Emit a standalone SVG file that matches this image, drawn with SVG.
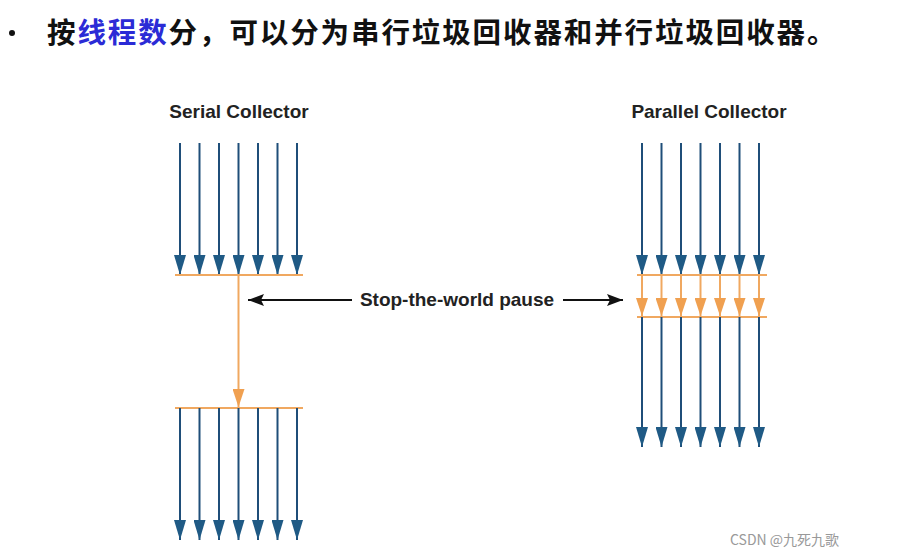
<svg xmlns="http://www.w3.org/2000/svg" width="897" height="555" viewBox="0 0 897 555">
<defs>
<style>
.b{stroke:#1f4e79;stroke-width:2}
.o{stroke:#f0a860;stroke-width:2}
.k{stroke:#111;stroke-width:2}
.t{font-family:"Liberation Sans",Arial,sans-serif;font-weight:bold;font-size:19px;fill:#222}
</style>
<marker id="bh" viewBox="0 0 20 12" refX="20" refY="6" markerWidth="20" markerHeight="12" markerUnits="userSpaceOnUse" orient="auto"><path d="M0,0 L20,6 L0,12 Z" fill="#1f5a85"/></marker>
<marker id="oh" viewBox="0 0 18 12" refX="18" refY="6" markerWidth="18" markerHeight="12" markerUnits="userSpaceOnUse" orient="auto"><path d="M0,0 L18,6 L0,12 Z" fill="#f0a050"/></marker>
<marker id="kh" viewBox="0 0 16 12" refX="16" refY="6" markerWidth="16" markerHeight="12" markerUnits="userSpaceOnUse" orient="auto"><path d="M0,0 L16,6 L0,12 L3,6 Z" fill="#111"/></marker>
</defs>
<rect width="897" height="555" fill="#fff"/>
<g id="title">
<circle cx="12" cy="33" r="3" fill="#111"/>
<text x="47" y="43" font-family="Noto Sans CJK SC,sans-serif" font-size="28.5" letter-spacing="1.9" font-weight="bold" fill="#111">按<tspan fill="#2b2bd6">线程数</tspan>分，可以分为串行垃圾回收器和并行垃圾回收器。</text>
</g>
<g id="serial">
<text class="t" x="239" y="118" text-anchor="middle">Serial Collector</text>
<g class="b" marker-end="url(#bh)">
<line x1="180" y1="143" x2="180" y2="275"/><line x1="199.5" y1="143" x2="199.5" y2="275"/><line x1="219" y1="143" x2="219" y2="275"/><line x1="238.5" y1="143" x2="238.5" y2="275"/><line x1="258" y1="143" x2="258" y2="275"/><line x1="277.5" y1="143" x2="277.5" y2="275"/><line x1="297" y1="143" x2="297" y2="275"/>
</g>
<line class="o" x1="175" y1="275" x2="303" y2="275"/>
<line class="o" x1="238.5" y1="275" x2="238.5" y2="407" marker-end="url(#oh)"/>
<line class="o" x1="175" y1="408" x2="303" y2="408"/>
<g class="b" marker-end="url(#bh)">
<line x1="180" y1="408" x2="180" y2="540"/><line x1="199.5" y1="408" x2="199.5" y2="540"/><line x1="219" y1="408" x2="219" y2="540"/><line x1="238.5" y1="408" x2="238.5" y2="540"/><line x1="258" y1="408" x2="258" y2="540"/><line x1="277.5" y1="408" x2="277.5" y2="540"/><line x1="297" y1="408" x2="297" y2="540"/>
</g>
</g>
<g id="parallel">
<text class="t" x="709" y="118" text-anchor="middle">Parallel Collector</text>
<g class="b" marker-end="url(#bh)">
<line x1="642" y1="143" x2="642" y2="275"/><line x1="661.5" y1="143" x2="661.5" y2="275"/><line x1="681" y1="143" x2="681" y2="275"/><line x1="700.5" y1="143" x2="700.5" y2="275"/><line x1="720" y1="143" x2="720" y2="275"/><line x1="739.5" y1="143" x2="739.5" y2="275"/><line x1="759" y1="143" x2="759" y2="275"/>
</g>
<line class="o" x1="637" y1="275" x2="767" y2="275"/>
<g class="o" marker-end="url(#oh)">
<line x1="642" y1="275" x2="642" y2="316"/><line x1="661.5" y1="275" x2="661.5" y2="316"/><line x1="681" y1="275" x2="681" y2="316"/><line x1="700.5" y1="275" x2="700.5" y2="316"/><line x1="720" y1="275" x2="720" y2="316"/><line x1="739.5" y1="275" x2="739.5" y2="316"/><line x1="759" y1="275" x2="759" y2="316"/>
</g>
<line class="o" x1="637" y1="317" x2="767" y2="317"/>
<g class="b" marker-end="url(#bh)">
<line x1="642" y1="317" x2="642" y2="447"/><line x1="661.5" y1="317" x2="661.5" y2="447"/><line x1="681" y1="317" x2="681" y2="447"/><line x1="700.5" y1="317" x2="700.5" y2="447"/><line x1="720" y1="317" x2="720" y2="447"/><line x1="739.5" y1="317" x2="739.5" y2="447"/><line x1="759" y1="317" x2="759" y2="447"/>
</g>
</g>
<g id="connectors">
<text class="t" x="457" y="306" text-anchor="middle" font-size="20">Stop-the-world pause</text>
<line class="k" x1="352" y1="300" x2="248" y2="300" marker-end="url(#kh)"/>
<line class="k" x1="563" y1="300" x2="623" y2="300" marker-end="url(#kh)"/>
</g>
<text x="730" y="545" font-family="Noto Sans CJK SC,sans-serif" font-size="14" fill="#999">CSDN @九死九歌</text>
</svg>
